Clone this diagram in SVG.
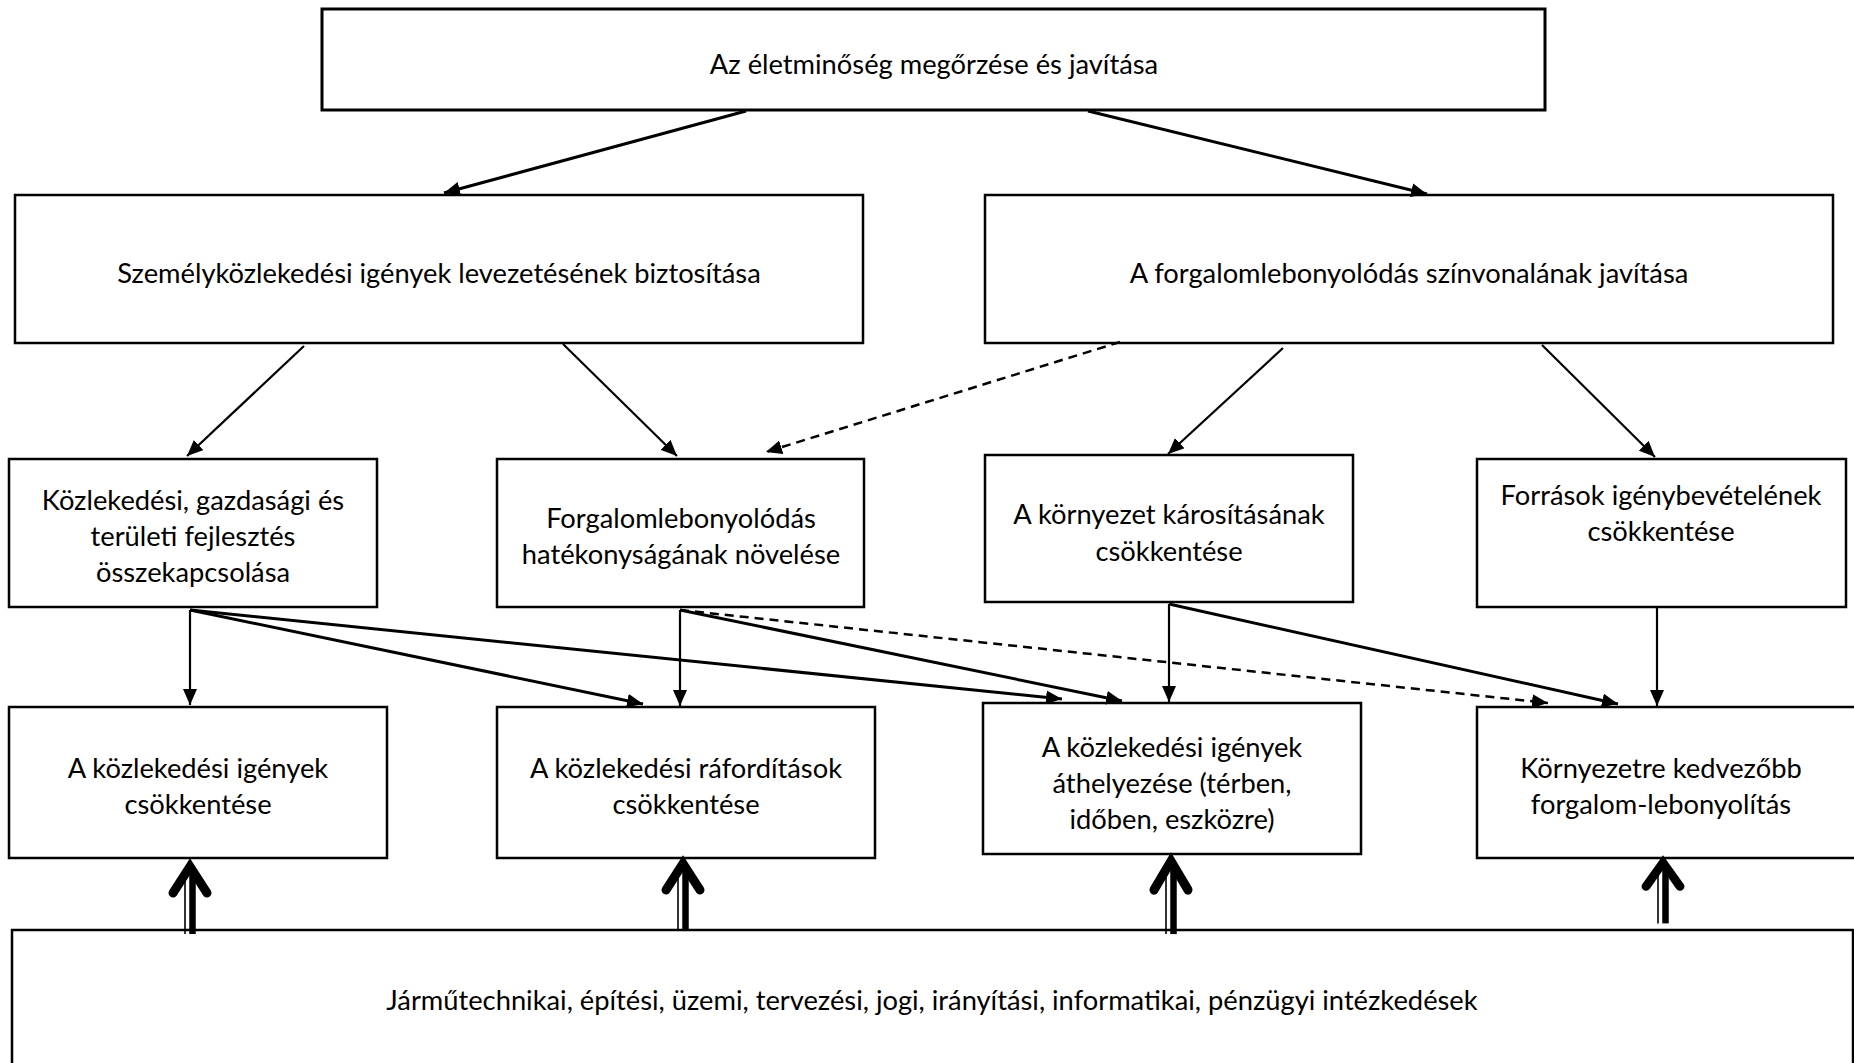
<svg xmlns="http://www.w3.org/2000/svg" width="1854" height="1063" viewBox="0 0 1854 1063">
  <style>
    .box { fill: #ffffff; stroke: #000000; stroke-width: 2.5; }
    .box.heavy { stroke-width: 3; }
    .lbl { font-family: Lato, "Liberation Sans", sans-serif; font-size: 27.3px; fill: #000000; text-anchor: middle; }
    .con { stroke: #000000; stroke-width: 2.2; fill: none; marker-end: url(#tri); }
    .con.thick { stroke-width: 3; }
    .con.dash { stroke-dasharray: 9 6; stroke-width: 2.5; }
    .up-head { fill: none; stroke: #000000; stroke-width: 9; stroke-linecap: round; stroke-linejoin: miter; stroke-miterlimit: 10; }
    .up-thin { stroke: #000000; stroke-width: 1.6; }
    .up-thick { stroke: #000000; stroke-width: 6.5; }
  </style>
  <defs>
    <marker id="tri" markerUnits="userSpaceOnUse" viewBox="0 0 16 14" markerWidth="16" markerHeight="14" refX="16" refY="7" orient="auto">
      <path d="M0,0 L16,7 L0,14 Z" fill="#000000"/>
    </marker>
    <!-- double-shafted upward arrow, tip at (0,0) -->
    <g id="uparrow">
      <line class="up-thin" x1="-5" y1="10" x2="-5" y2="76"/>
      <line class="up-thick" x1="2.5" y1="10" x2="2.5" y2="76"/>
      <polyline class="up-head" points="-17,35 0,8.5 17,35"/>
    </g>
  </defs>

  <rect width="1854" height="1063" fill="#ffffff"/>

  <!-- top goal -->
  <g id="n-eletminoseg">
    <rect class="box heavy" x="322" y="9" width="1223" height="101"/>
    <text class="lbl" x="934" y="74">Az életminőség megőrzése és javítása</text>
  </g>

  <!-- second level -->
  <g id="n-szemelykozlekedes">
    <rect class="box" x="15" y="195" width="848" height="148"/>
    <text class="lbl" x="439" y="283">Személyközlekedési igények levezetésének biztosítása</text>
  </g>
  <g id="n-forgalomlebonyolodas-szinvonal">
    <rect class="box" x="985" y="195" width="848" height="148"/>
    <text class="lbl" x="1409" y="283">A forgalomlebonyolódás színvonalának javítása</text>
  </g>

  <!-- third level -->
  <g id="n-fejlesztes">
    <rect class="box" x="9" y="459" width="368" height="148"/>
    <text class="lbl" x="193" y="510">Közlekedési, gazdasági és</text>
    <text class="lbl" x="193" y="546">területi fejlesztés</text>
    <text class="lbl" x="193" y="582">összekapcsolása</text>
  </g>
  <g id="n-hatekonysag">
    <rect class="box" x="497" y="459" width="367" height="148"/>
    <text class="lbl" x="681" y="528">Forgalomlebonyolódás</text>
    <text class="lbl" x="681" y="564">hatékonyságának növelése</text>
  </g>
  <g id="n-kornyezet-karositas">
    <rect class="box" x="985" y="455" width="368" height="147"/>
    <text class="lbl" x="1169" y="524">A környezet károsításának</text>
    <text class="lbl" x="1169" y="561">csökkentése</text>
  </g>
  <g id="n-forrasok">
    <rect class="box" x="1477" y="459" width="369" height="148"/>
    <text class="lbl" x="1661" y="505">Források igénybevételének</text>
    <text class="lbl" x="1661" y="541">csökkentése</text>
  </g>

  <!-- fourth level -->
  <g id="n-igenyek-csokkentese">
    <rect class="box" x="9" y="707" width="378" height="151"/>
    <text class="lbl" x="198" y="778">A közlekedési igények</text>
    <text class="lbl" x="198" y="814">csökkentése</text>
  </g>
  <g id="n-raforditasok">
    <rect class="box" x="497" y="707" width="378" height="151"/>
    <text class="lbl" x="686" y="778">A közlekedési ráfordítások</text>
    <text class="lbl" x="686" y="814">csökkentése</text>
  </g>
  <g id="n-athelyezes">
    <rect class="box" x="983" y="703" width="378" height="151"/>
    <text class="lbl" x="1172" y="757">A közlekedési igények</text>
    <text class="lbl" x="1172" y="793">áthelyezése (térben,</text>
    <text class="lbl" x="1172" y="829">időben, eszközre)</text>
  </g>
  <g id="n-kedvezobb">
    <rect class="box" x="1477" y="707" width="383" height="151"/>
    <text class="lbl" x="1661" y="778">Környezetre kedvezőbb</text>
    <text class="lbl" x="1661" y="814">forgalom-lebonyolítás</text>
  </g>

  <!-- measures -->
  <g id="n-intezkedesek">
    <rect class="box" x="12" y="930" width="1841" height="150"/>
    <text class="lbl" x="932" y="1010">Járműtechnikai, építési, üzemi, tervezési, jogi, irányítási, informatikai, pénzügyi intézkedések</text>
  </g>

  <!-- connectors -->
  <g id="connectors">
    <line class="con thick" x1="746" y1="111" x2="444" y2="193"/>
    <line class="con thick" x1="1088" y1="111" x2="1427" y2="194"/>

    <line class="con" x1="304" y1="346" x2="187" y2="456"/>
    <line class="con" x1="563" y1="344" x2="677" y2="456"/>
    <line class="con dash" x1="1120" y1="342" x2="766" y2="452"/>
    <line class="con" x1="1283" y1="348" x2="1168" y2="454"/>
    <line class="con" x1="1542" y1="345" x2="1655" y2="457"/>

    <line class="con" x1="190" y1="610" x2="190" y2="705"/>
    <line class="con thick" x1="190" y1="610" x2="643" y2="704"/>
    <line class="con thick" x1="190" y1="610" x2="1062" y2="699"/>
    <line class="con" x1="680" y1="610" x2="680" y2="706"/>
    <line class="con thick" x1="680" y1="610" x2="1122" y2="701"/>
    <line class="con dash" x1="680" y1="610" x2="1548" y2="703"/>
    <line class="con" x1="1169" y1="604" x2="1169" y2="702"/>
    <line class="con thick" x1="1169" y1="604" x2="1618" y2="704"/>
    <line class="con" x1="1657" y1="608" x2="1657" y2="706"/>

    <!-- upward double arrows from the measures box -->
    <use href="#uparrow" transform="translate(190,858)"/>
    <use href="#uparrow" transform="translate(683,855)"/>
    <use href="#uparrow" transform="translate(1171,852) scale(1,1.08)"/>
    <use href="#uparrow" transform="translate(1663,855) scale(1,0.9)"/>
  </g>
</svg>
